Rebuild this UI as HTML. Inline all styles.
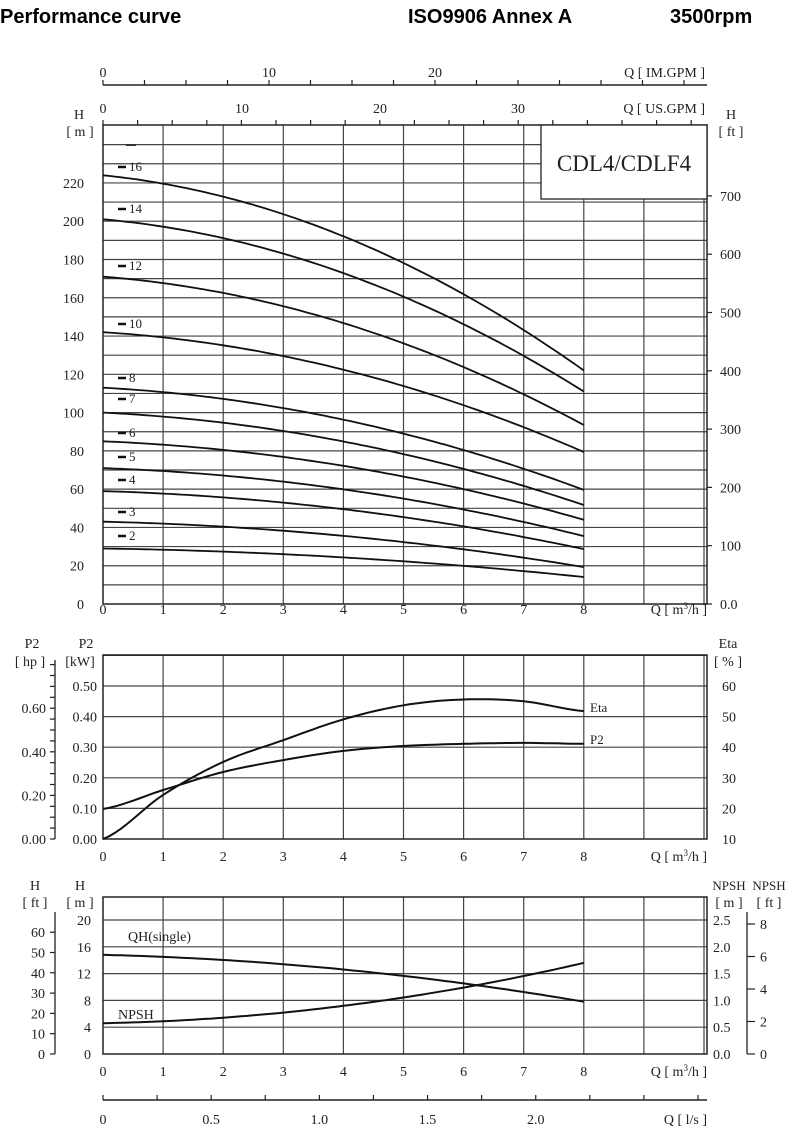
<!DOCTYPE html>
<html><head><meta charset="utf-8"><style>
html,body{margin:0;padding:0;background:#fff;}
svg{display:block;font-family:"Liberation Serif",serif;}
.t{font-family:"Liberation Sans",sans-serif;font-weight:bold;font-size:20px;}
</style></head><body>
<svg id="s" width="812" height="1145" viewBox="0 0 812 1145" xmlns="http://www.w3.org/2000/svg">
<rect width="812" height="1145" fill="#fff"/>
<text class="t" x="0" y="23">Performance curve</text>
<text class="t" x="408" y="23">ISO9906 Annex A</text>
<text class="t" x="670" y="23">3500rpm</text>
</svg>
<script>
const s=document.getElementById('s');let o='';
const X0=103,XR=707,PX=60.1;const X=q=>X0+q*PX;
function L(x1,y1,x2,y2,w,c){o+=`<line x1="${x1}" y1="${y1}" x2="${x2}" y2="${y2}" stroke="${c||'#444'}" stroke-width="${w||1.2}"/>`;}
function T(x,y,t,a,sz){o+=`<text x="${x}" y="${y}" font-size="${sz||14}" text-anchor="${a||'start'}" fill="#222">${t}</text>`;}
function P(pts,w){o+=`<path d="M${pts.map(p=>p[0].toFixed(1)+','+p[1].toFixed(1)).join(' L')}" fill="none" stroke="#111" stroke-width="${w||2}"/>`;}
function F(f,fy){let r=[];for(let i=0;i<=80;i++){let q=i/10;r.push([X(q),fy(f(q))]);}return r;}
function smooth(xs,ys,fx,fy){let r=[];for(let i=0;i<xs.length-1;i++){for(let k=0;k<10;k++){let t=k/10;let q=xs[i]+(xs[i+1]-xs[i])*t;
let y0=ys[Math.max(i-1,0)],y1=ys[i],y2=ys[i+1],y3=ys[Math.min(i+2,ys.length-1)];
let v=0.5*((2*y1)+(-y0+y2)*t+(2*y0-5*y1+4*y2-y3)*t*t+(-y0+3*y1-3*y2+y3)*t*t*t);r.push([fx(q),fy(v)]);}}
r.push([fx(xs[xs.length-1]),fy(ys[ys.length-1])]);return r;}
const G=q=>{let t=q/8;return 0.25*t+0.75*t*t;};
// top axes IM GPM
L(X0,85,XR,85,1.5,'#222');for(let i=0;i<=14;i++){let x=X0+i*41.5;if(x>XR)break;L(x,80,x,85,1.2,'#222');}
T(103,77,'0','middle');T(269,77,'10','middle');T(435,77,'20','middle');T(705,77,'Q [ IM.GPM ]','end');
T(103,113,'0','middle');T(242,113,'10','middle');T(380,113,'20','middle');T(518,113,'30','middle');T(705,113,'Q [ US.GPM ]','end');
for(let i=0;i<=17;i++){let x=X0+i*34.6;if(x>XR)break;L(x,120,x,125,1.2,'#222');}
// top chart
const YT=125,YB=604,HY=h=>604-h*1.914;
for(let h=10;h<=240;h+=10)L(X0,HY(h),XR,HY(h));
for(let q=1;q<=10;q++)L(X(q),YT,X(q),YB);
o+=`<rect x="${X0}" y="${YT}" width="${XR-X0}" height="${YB-YT}" fill="none" stroke="#222" stroke-width="1.5"/>`;
for(let h=0;h<=220;h+=20)T(84,HY(h)+5,h,'end');
T(79,119,'H','middle');T(80,136,'[ m ]','middle');
T(731,119,'H','middle');T(731,136,'[ ft ]','middle');
for(let f=0;f<=700;f+=100){let y=604-f*0.583;L(XR,y,XR+5,y,1.2,'#222');T(720,y+5,f==0?'0.0':f);}
for(let q=0;q<=8;q++)T(X(q),614,q,'middle');
T(707,614,'Q [ m<tspan font-size="9" dy="-5">3</tspan><tspan dy="5">/h ]</tspan>','end');
o+=`<rect x="541" y="125" width="166" height="74" fill="#fff" stroke="#222" stroke-width="1.3"/>`;
T(624,171,'CDL4/CDLF4','middle',23);
const st=[[16,224,122,171],[14,201,111,213],[12,171,93.5,270],[10,142,79.4,328],[8,113,59.6,382],[7,100,51.7,403],[6,85,44,437],[5,71,35.5,461],[4,59,28.7,484],[3,43,19.3,516],[2,29,14.1,540]];
for(const [n,a,b,ly] of st){P(F(q=>a-(a-b)*G(q),HY),1.8);
L(118,ly-4,126,ly-4,2.5,'#111');T(129,ly,n,'start',13);}
L(126,145,136,145,2,'#333');
// middle chart
const MT=655,MB=839,PY=v=>839-v*306;
for(let v=0.1;v<0.65;v+=0.1)L(X0,PY(v),XR,PY(v));
for(let q=1;q<=10;q++)L(X(q),MT,X(q),MB);
o+=`<rect x="${X0}" y="${MT}" width="${XR-X0}" height="${MB-MT}" fill="none" stroke="#222" stroke-width="1.5"/>`;
for(let i=0;i<=5;i++){T(97,PY(i/10)+5,(i/10).toFixed(2),'end');}
T(86,648,'P2','middle');T(80,666,'[kW]','middle');
T(32,648,'P2','middle');T(30,666,'[ hp ]','middle');
L(55,660,55,839,1.3,'#222');
for(let i=0;i<=16;i++){let y=839-i*10.9;L(50,y,55,y,1.2,'#222');}
for(let i=0;i<=3;i++)T(46,839-i*43.6+5,(i*0.2).toFixed(2),'end');
T(728,648,'Eta','middle');T(728,666,'[ % ]','middle');
for(let e=10;e<=60;e+=10)T(722,839-(e-10)*3.06+5,e);
for(let q=0;q<=8;q++)T(X(q),861,q,'middle');
T(707,861,'Q [ m<tspan font-size="9" dy="-5">3</tspan><tspan dy="5">/h ]</tspan>','end');
const EY=e=>839-(e-10)*3.06;
P(smooth([0,1,2,3,4,5,6,7,8],[10,24.4,35.2,42.3,49.1,53.7,55.6,55,51.8],X,EY));
P(smooth([0,1,2,3,4,5,6,7,8],[0.098,0.16,0.219,0.258,0.288,0.304,0.311,0.314,0.311],X,PY));
T(590,712,'Eta','start',13);T(590,744,'P2','start',13);
// bottom chart
const BT=897,BB=1054,BY=h=>1054-h*6.7;
for(let h=4;h<=20;h+=4)L(X0,BY(h),XR,BY(h));
for(let q=1;q<=10;q++)L(X(q),BT,X(q),BB);
o+=`<rect x="${X0}" y="${BT}" width="${XR-X0}" height="${BB-BT}" fill="none" stroke="#222" stroke-width="1.5"/>`;
for(let h=0;h<=20;h+=4)T(91,BY(h)+5,h,'end');
T(80,890,'H','middle');T(80,907,'[ m ]','middle');
T(35,890,'H','middle');T(35,907,'[ ft ]','middle');
L(55,912,55,1054,1.3,'#222');
for(let f=0;f<=60;f+=10){let y=1054-f*2.03;L(50,y,55,y,1.2,'#222');T(45,y+5,f,'end');}
T(729,890,'NPSH','middle',13);T(729,907,'[ m ]','middle');
T(769,890,'NPSH','middle',13);T(769,907,'[ ft ]','middle');
for(let i=0;i<=5;i++){let v=i*0.5;T(713,BY(v*8)+5,v.toFixed(1));}
L(747,912,747,1054,1.3,'#222');
for(let f=0;f<=8;f+=2){let y=1054-f*16.25;L(747,y,755,y,1.2,'#222');T(760,y+5,f);}
for(let q=0;q<=8;q++)T(X(q),1076,q,'middle');
T(707,1076,'Q [ m<tspan font-size="9" dy="-5">3</tspan><tspan dy="5">/h ]</tspan>','end');
P(F(q=>14.8-7.0*G(q),BY));
P(F(q=>{let t=q/8;return 4.6+9*(0.15*t+0.85*t*t);},BY));
T(128,941,'QH(single)','start',14);T(118,1019,'NPSH','start',14);
// l/s axis
L(X0,1100,XR,1100,1.5,'#222');
for(let i=0;i<=11;i++){let x=X0+i*0.25*3.6*PX;if(x>XR+1)break;L(x,1095,x,1100,1.2,'#222');}
[0,0.5,1.0,1.5,2.0].forEach(v=>T(X0+v*3.6*PX,1124,v==0?'0':v.toFixed(1),'middle'));
T(707,1124,'Q [ l/s ]','end');
s.insertAdjacentHTML('beforeend',o);
</script>
</body></html>
